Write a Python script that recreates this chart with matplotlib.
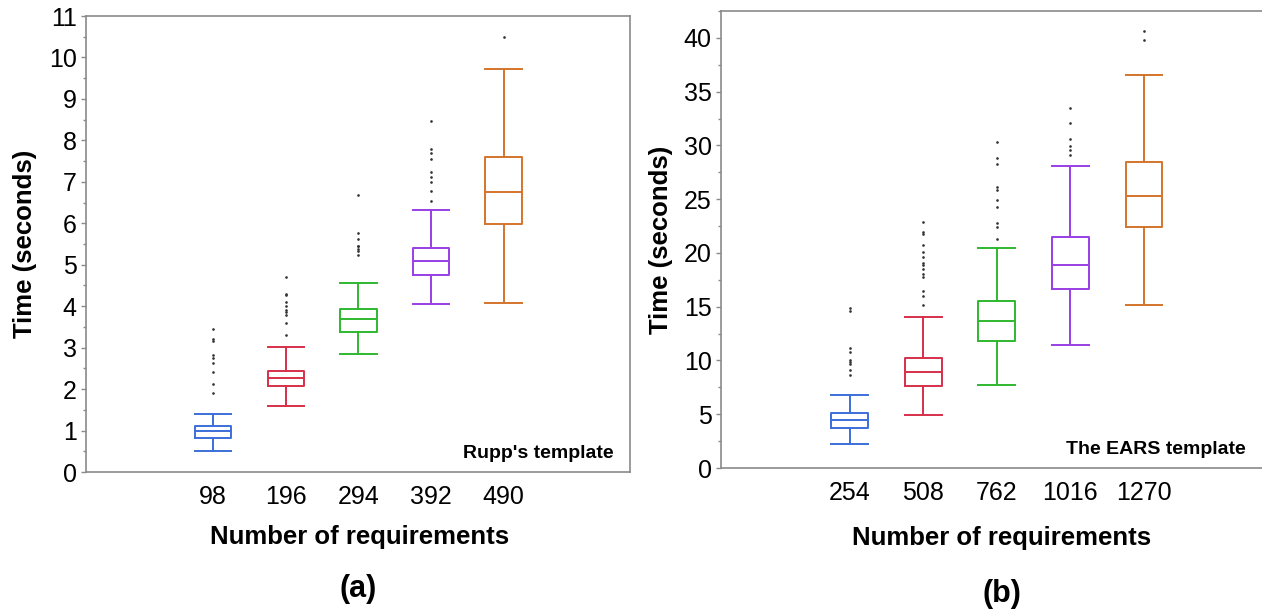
import matplotlib
matplotlib.use('Agg')
import matplotlib.pyplot as plt
from matplotlib.ticker import MultipleLocator

plt.rcParams['font.family'] = ['Liberation Sans', 'DejaVu Sans']

# (a) Rupp's template
left_labels = ['98', '196', '294', '392', '490']
left_whislo = [0.50, 1.60, 2.84, 4.06, 4.07]
left_q1 = [0.82, 2.07, 3.38, 4.75, 5.99]
left_med = [0.98, 2.26, 3.69, 5.08, 6.75]
left_q3 = [1.12, 2.43, 3.92, 5.40, 7.61]
left_whishi = [1.40, 3.01, 4.57, 6.33, 9.71]
left_fliers = [
    [3.46, 3.22, 3.16, 2.82, 2.76, 2.64, 2.41, 2.13, 1.91],
    [4.70, 4.30, 4.28, 4.09, 4.00, 3.90, 3.87, 3.79, 3.59, 3.30],
    [6.68, 5.76, 5.63, 5.46, 5.44, 5.37, 5.33, 5.23],
    [8.47, 7.79, 7.70, 7.56, 7.23, 7.11, 6.99, 6.78, 6.54],
    [10.50],
]

# (b) The EARS template
right_labels = ['254', '508', '762', '1016', '1270']
right_whislo = [2.26, 4.90, 7.69, 11.47, 15.13]
right_q1 = [3.69, 7.66, 11.81, 16.68, 22.41]
right_med = [4.46, 8.93, 13.64, 18.91, 25.33]
right_q3 = [5.08, 10.23, 15.56, 21.51, 28.49]
right_whishi = [6.79, 14.04, 20.46, 28.12, 36.52]
right_fliers = [
    [14.91, 14.63, 11.19, 10.79, 10.04, 9.86, 9.70, 9.14, 8.68],
    [22.88, 21.95, 21.79, 20.77, 20.09, 19.62, 19.09, 18.88, 18.51, 18.07,
     17.73, 16.49, 15.96, 15.13],
    [30.32, 28.83, 28.30, 26.10, 25.82, 24.89, 24.24, 22.78, 22.38, 21.30],
    [33.51, 32.05, 30.56, 29.94, 29.54, 29.10],
    [40.67, 39.83],
]

colors = ['#3b6fd9', '#d6304a', '#2eb82e', '#9a3ee6', '#d2742c']
spine_col = '#8a8a8a'


def draw_panel(ax, labels, whislo, q1, med, q3, whishi, fliers,
               ylim, major, note, note_x):
    stats = []
    for i in range(len(labels)):
        stats.append({'label': labels[i], 'whislo': whislo[i], 'q1': q1[i],
                      'med': med[i], 'q3': q3[i], 'whishi': whishi[i],
                      'fliers': fliers[i]})
    pos = list(range(1, len(labels) + 1))
    bp = ax.bxp(stats, positions=pos, widths=0.5, capwidths=0.5,
                showfliers=True, patch_artist=False,
                flierprops=dict(marker='o', markersize=0.9,
                                markerfacecolor='#333333',
                                markeredgecolor='#333333', linestyle='none'))
    for i, c in enumerate(colors):
        bp['boxes'][i].set(color=c, linewidth=1.4)
        bp['medians'][i].set(color=c, linewidth=1.4)
        for k in (2 * i, 2 * i + 1):
            bp['whiskers'][k].set(color=c, linewidth=1.4)
            bp['caps'][k].set(color=c, linewidth=1.4)

    ax.set_xlim(-0.75, 6.74)
    ax.set_ylim(*ylim)
    ax.yaxis.set_major_locator(MultipleLocator(major))
    ax.yaxis.set_minor_locator(MultipleLocator(major / 2))
    ax.set_xticks(pos)
    ax.set_xticklabels(labels)
    ax.tick_params(axis='x', length=0, pad=9, labelsize=18)
    ax.tick_params(axis='y', which='major', length=3.6, width=1,
                   color=spine_col, pad=3, labelsize=18)
    ax.tick_params(axis='y', which='minor', length=2, width=1,
                   color=spine_col)
    for s in ax.spines.values():
        s.set_color(spine_col)
        s.set_linewidth(1.2)

    ax.set_ylabel('Time (seconds)', fontsize=18.5, fontweight='bold',
                  va='center')
    ax.set_xlabel('Number of requirements', fontsize=18.5,
                  fontweight='bold', va='center')
    ax.text(note_x, 0.04, note, transform=ax.transAxes, ha='right',
            va='center', fontsize=14, fontweight='bold')


fig = plt.figure(figsize=(12.62, 6.10), dpi=100)
ax1 = fig.add_axes([86 / 1262, 138 / 610, 544 / 1262, 456 / 610])
ax2 = fig.add_axes([721 / 1262, 142 / 610, 551 / 1262, 457 / 610])

draw_panel(ax1, left_labels, left_whislo, left_q1, left_med, left_q3,
           left_whishi, left_fliers, (0, 11), 1, "Rupp's template", 0.969)
draw_panel(ax2, right_labels, right_whislo, right_q1, right_med, right_q3,
           right_whishi, right_fliers, (0, 42.5), 5, 'The EARS template',
           0.953)
ax2.spines['right'].set_visible(False)

ax1.yaxis.set_label_coords(-0.112, 0.5)
ax1.xaxis.set_label_coords(0.502, -0.1425)
ax2.yaxis.set_label_coords(-0.109, 0.5)
ax2.xaxis.set_label_coords(0.51, -0.153)

fig.text(358 / 1262, 1 - 589 / 610, '(a)', ha='center', va='center',
         fontsize=22, fontweight='bold')
fig.text(1002 / 1262, 1 - 594 / 610, '(b)', ha='center', va='center',
         fontsize=22, fontweight='bold')

fig.savefig('out.png', dpi=100)
plt.close(fig)
